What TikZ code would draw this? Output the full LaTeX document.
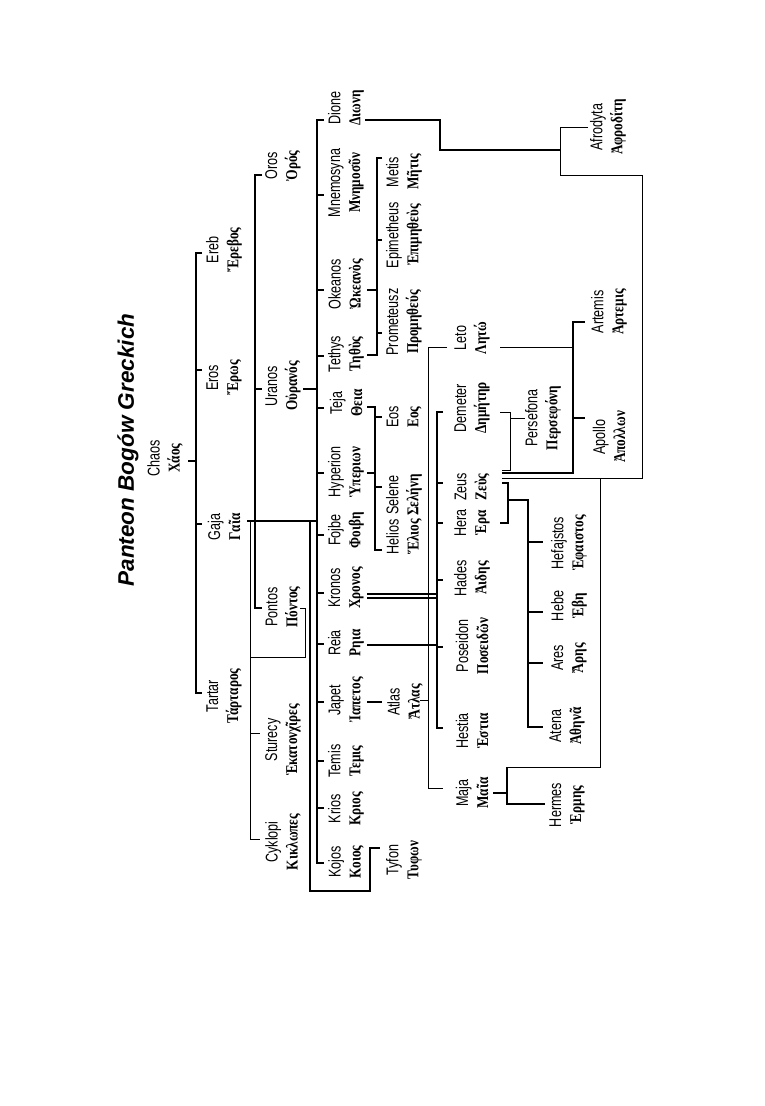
\documentclass[tikz,border=0pt]{standalone}
\usepackage{fontspec}
\setmainfont{Liberation Sans}
\newfontfamily\latfont[FakeStretch=0.74]{Liberation Sans}
\newfontfamily\grkfont[FakeStretch=0.8]{Liberation Serif}
\tikzset{god/.style={rotate=90,align=center,inner sep=0pt,font=\latfont\fontsize{17}{20}\selectfont},
         ln/.style={line width=1.6pt},
         tln/.style={line width=0.8pt},
         ttl/.style={rotate=90,inner sep=0pt,font=\fontsize{22.5}{26}\selectfont\bfseries\itshape}
         }
\newcommand{\gr}[1]{{\grkfont\bfseries\fontsize{16.5}{20}\selectfont #1}}

\begin{document}
\begin{tikzpicture}[x=1pt,y=-1pt]
        \fill[white] (0,0) rectangle (765,1106);
        \useasboundingbox (0,0) rectangle (765,1106);
        \node[ttl] (title) at (128,450) {Panteon Bogów Greckich};

        \node[god] (Chaos) at (165,458) {Chaos\\\gr{Χάος}};
        \node[god] (Ereb) at (224,250) {Ereb\\\gr{Ἔρεβος}};
        \node[god] (Eros) at (224,378) {Eros\\\gr{Ἔρως}};
        \node[god] (Gaja) at (224,527) {Gaja\\\gr{Γαῖα}};
        \node[god] (Tartar) at (224,696) {Tartar\\\gr{Τάρταρος}};
        \node[god] (Oros) at (283,166) {Oros\\\gr{Ὀρός}};
        \node[god] (Uranos) at (283,386) {Uranos\\\gr{Οὐρανός}};
        \node[god] (Pontos) at (283,607) {Pontos\\\gr{Πόντος}};
        \node[god] (Sturecy) at (283,740) {Sturecy\\\gr{Ἑκατονχῖρες}};
        \node[god] (Cyklopi) at (283,842) {Cyklopi\\\gr{Κικλωπες}};

        \node[god] (Dione) at (346,108) {Dione\\\gr{Διωνη}};
        \node[god] (Mnemosyna) at (346,183) {Mnemosyna\\\gr{Μνημοσῦν}};
        \node[god] (Okeanos) at (346,284) {Okeanos\\\gr{Ὠκεανὸς}};
        \node[god] (Tethys) at (346,354) {Tethys\\\gr{Τηθὺς}};
        \node[god] (Teja) at (346,403) {Teja\\\gr{Θεια}};
        \node[god] (Hyperion) at (346,472) {Hyperion\\\gr{Ὑπεριων}};
        \node[god] (Fojbe) at (346,530) {Fojbe\\\gr{Φοιβη}};
        \node[god] (Kronos) at (346,588) {Kronos\\\gr{Χρονος}};
        \node[god] (Reia) at (346,643) {Reia\\\gr{Ρηια}};
        \node[god] (Japet) at (346,700) {Japet\\\gr{Ἰαπετος}};
        \node[god] (Temis) at (346,761) {Temis\\\gr{Τεμις}};
        \node[god] (Krios) at (346,809) {Krios\\\gr{Κριος}};
        \node[god] (Kojos) at (346,862) {Kojos\\\gr{Κοιος}};

        \node[god] (Metis) at (404,172) {Metis\\\gr{Μῆτις}};
        \node[god] (Epimetheus) at (404,235) {Epimetheus\\\gr{Ἐπιμηθεὺς}};
        \node[god] (Prometeusz) at (404,322) {Prometeusz\\\gr{Προμηθεύς}};
        \node[god] (Eos) at (404,417) {Eos\\\gr{Εος}};
        \node[god] (Selene) at (404,495) {Selene\\\gr{Σελήνη}};
        \node[god] (Helios) at (404,537) {Helios\\\gr{Ἕλιος}};
        \node[god] (Atlas) at (405,702) {Atlas\\\gr{Ἄτλας}};
        \node[god] (Tyfon) at (404,860) {Tyfon\\\gr{Τυφων}};

        \node[god] (Leto) at (472,338) {Leto\\\gr{Λητώ}};
        \node[god] (Demeter) at (472,408) {Demeter\\\gr{Δημήτηρ}};
        \node[god] (Zeus) at (472,487) {Zeus\\\gr{Ζεὺς}};
        \node[god] (Hera) at (472,523) {Hera\\\gr{Ἑρα}};
        \node[god] (Hades) at (472,578) {Hades\\\gr{Ἀιδης}};
        \node[god] (Poseidon) at (472,646) {Poseidon\\\gr{Ποσειδῶν}};
        \node[god] (Hestia) at (472,731) {Hestia\\\gr{Ἑστια}};
        \node[god] (Maja) at (472,793) {Maja\\\gr{Μαῖα}};

        \node[god] (Persefona) at (543,418) {Persefona\\\gr{Περσεφόνη}};
        \node[god] (Hefajstos) at (569,543) {Hefajstos\\\gr{Ἑφαιστος}};
        \node[god] (Hebe) at (569,606) {Hebe\\\gr{Ἑβη}};
        \node[god] (Ares) at (569,658) {Ares\\\gr{Ἄρης}};
        \node[god] (Atena) at (567,726) {Atena\\\gr{Ἀθηνᾶ}};
        \node[god] (Hermes) at (567,805) {Hermes\\\gr{Ἑρμης}};
        \node[god] (Artemis) at (609,312) {Artemis\\\gr{Ἀρτεμις}};
        \node[god] (Apollo) at (609,437) {Apollo\\\gr{Ἀπολλων}};
        \node[god] (Afrodyta) at (608,127) {Afrodyta\\\gr{Ἀφροδίτη}};

        % Chaos
        \draw[ln] (188,461) -- (196,461);
        \draw[ln] (202,253) -- (196,253) -- (196,693) -- (202,693);
        \foreach \y in {370,524} \draw[ln] (196,\y) -- (202,\y);
        % Gaja
        \draw[ln] (262,175) -- (255,175) -- (255,608) -- (262,608);
        \draw[ln] (255,389) -- (262,389);
        \draw[ln] (247,521) -- (317,521);
        \draw[tln] (250,521) -- (250,839) -- (260,839);
        \draw[tln] (250,733) -- (260,733);
        \draw[tln] (250,657) -- (305,657) -- (305,608) -- (300,608);
        \draw[ln] (310,521) -- (310,891) -- (370,891) -- (370,848) -- (380,848);
        % Uranos
        \draw[ln] (303,389) -- (317,389);
        \draw[ln] (324,120) -- (317,120) -- (317,863) -- (324,863);
        \foreach \y in {195,290,356,408,473,535,593,644,702,761,808}
            \draw[ln] (317,\y) -- (324,\y);
        % Hyperion, Teja
        \draw[ln] (367,407) -- (375,407) -- (375,550) -- (382,550);
        \draw[ln] (367,473) -- (375,473);
        \foreach \y in {417,487} \draw[ln] (375,\y) -- (382,\y);
        % Okeanos, Tethys
        \draw[ln] (382,158) -- (377,158) -- (377,355) -- (367,355);
        \draw[ln] (367,290) -- (377,290);
        \foreach \y in {240,333} \draw[ln] (377,\y) -- (382,\y);
        % Kronos, Reia
        \draw[ln] (367,594) -- (437,594);
        \draw[ln] (367,598) -- (437,598);
        \draw[ln] (367,645) -- (437,645);
        \draw[ln] (443,412) -- (437,412) -- (437,728) -- (443,728);
        \foreach \y in {483,523,580,647} \draw[ln] (437,\y) -- (443,\y);
        % Japet, Atlas
        \draw[ln] (367,702) -- (382,702);
        \draw[tln] (447,347) -- (428,347) -- (428,788) -- (443,788);
        \draw[tln] (420,700) -- (428,700);
        % Dione
        \draw[ln] (365,120) -- (440,120) -- (440,150) -- (560,150);
        \draw[tln] (588,127) -- (560,127) -- (560,175) -- (642,175) -- (642,478) -- (502,478);
        % Leto
        \draw[tln] (500,347) -- (573,347);
        \draw[ln] (585,322) -- (573,322) -- (573,473) -- (502,473);
        \draw[ln] (573,418) -- (585,418);
        % Demeter
        \draw[tln] (500,412) -- (510,412) -- (510,470) -- (502,470);
        \draw[tln] (510,418) -- (525,418);
        % Hera
        \draw[ln] (502,483) -- (508,483) -- (508,523) -- (500,523);
        \draw[ln] (508,500) -- (528,500) -- (528,727) -- (543,727);
        \foreach \y in {542,612,663} \draw[ln] (528,\y) -- (543,\y);
        % Maja
        \draw[tln] (600,478) -- (600,767) -- (507,767);
        \draw[ln] (507,767) -- (507,804) -- (545,804);
        \draw[ln] (493,793) -- (507,793);
\end{tikzpicture}
\end{document}
